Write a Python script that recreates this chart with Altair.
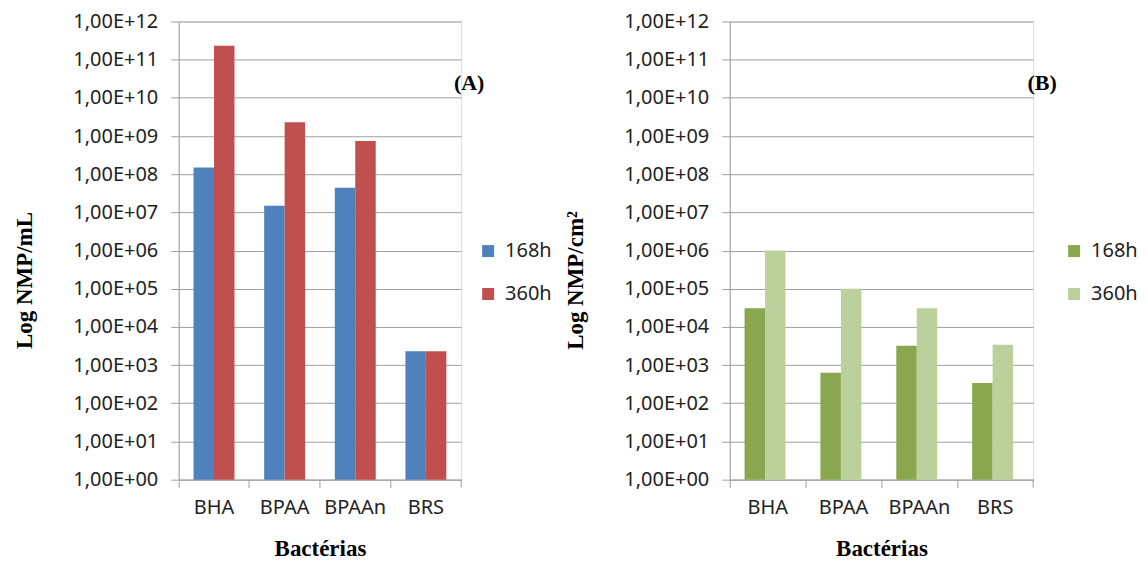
import altair as alt
import pandas as pd

categories = ["BHA", "BPAA", "BPAAn", "BRS"]
series = ["168h", "360h"]
a_168h = [1.5e8, 1.5e7, 4.4e7, 2.3e3]
a_360h = [2.3e11, 2.3e9, 7.4e8, 2.3e3]
b_168h = [3.1e4, 6.3e2, 3.2e3, 3.4e2]
b_360h = [1.0e6, 1.0e5, 3.1e4, 3.4e3]
y_ticks = [10 ** i for i in range(13)]

colors_a = ["#4F81BD", "#C0504D"]
colors_b = ["#8AA64E", "#BBD09A"]

LABEL_FONT = "Noto Sans"
TITLE_FONT = "Liberation Serif"
GRID = "#A0A0A0"
H = 459


def make_df(v1, v2):
    rows = []
    for c, a, b in zip(categories, v1, v2):
        rows.append({"cat": c, "serie": series[0], "val": a})
        rows.append({"cat": c, "serie": series[1], "val": b})
    return pd.DataFrame(rows)


def panel(df, colors, ytitle, tag, W, legx, tagx):
    label_expr = ("'1,00E+' + (round(log(datum.value)/LN10) < 10 ? '0' : '') + "
                  "format(round(log(datum.value)/LN10), 'd')")
    bars = alt.Chart(df).mark_bar().encode(
        x=alt.X("cat:N", sort=categories,
                scale=alt.Scale(paddingInner=0, paddingOuter=0),
                axis=alt.Axis(title="Bactérias", labelAngle=0, bandPosition=0,
                              domainColor=GRID, tickColor=GRID, tickSize=8,
                              labelFont=LABEL_FONT, labelFontSize=20, labelColor="#222",
                              labelPadding=10,
                              titleFont=TITLE_FONT, titleFontSize=23, titleFontWeight="bold",
                              titleColor="#000", titleX=W / 2, titleY=69,
                              titleBaseline="middle", titleAlign="center")),
        xOffset=alt.XOffset("serie:N", sort=series,
                            scale=alt.Scale(paddingInner=0, paddingOuter=0.725)),
        y=alt.Y("val:Q", stack=None,
                scale=alt.Scale(type="log", domain=[1, 1e12], nice=False),
                axis=alt.Axis(title=ytitle, values=y_ticks, labelExpr=label_expr,
                              grid=True, gridColor=GRID, domainColor=GRID,
                              tickColor=GRID, tickSize=8, labelPadding=13,
                              labelFont=LABEL_FONT, labelFontSize=20, labelColor="#222",
                              titleFont=TITLE_FONT, titleFontSize=23, titleFontWeight="bold",
                              titleColor="#000", titleAngle=270, titleX=-154, titleY=259,
                              titleBaseline="middle", titleAlign="center")),
        color=alt.Color("serie:N", sort=series,
                        scale=alt.Scale(domain=series, range=colors),
                        legend=alt.Legend(title=None, orient="none", legendX=legx, legendY=220,
                                          symbolType="square", symbolSize=144,
                                          symbolStrokeWidth=0,
                                          labelFont=LABEL_FONT, labelFontSize=20,
                                          labelColor="#222", labelOffset=7, rowPadding=23)),
    ).properties(width=W, height=H)

    endtick = alt.Chart(pd.DataFrame({"k": [0]})).mark_rule(color=GRID, strokeWidth=1).encode(
        x=alt.value(W), y=alt.value(H), y2=alt.value(H + 8))

    tagtext = alt.Chart(pd.DataFrame({"t": [tag]})).mark_text(
        font=TITLE_FONT, fontSize=22, fontWeight="bold", color="#000",
        align="center", baseline="middle").encode(
        text="t:N", x=alt.value(tagx), y=alt.value(62))

    return alt.layer(bars, endtick, tagtext)


pa = panel(make_df(a_168h, a_360h), colors_a, "Log NMP/mL", "(A)", 283, 300, 291)
pb = panel(make_df(b_168h, b_360h), colors_b, "Log NMP/cm²", "(B)", 304, 335, 313)

chart = alt.hconcat(pa, pb, spacing=11).resolve_scale(color="independent").properties(
    padding={"left": 5, "top": 2, "right": 0, "bottom": 0}
).configure_view(stroke=None).configure(background="white")

chart.save("out.html", embed_options={"renderer": "svg", "actions": False})
